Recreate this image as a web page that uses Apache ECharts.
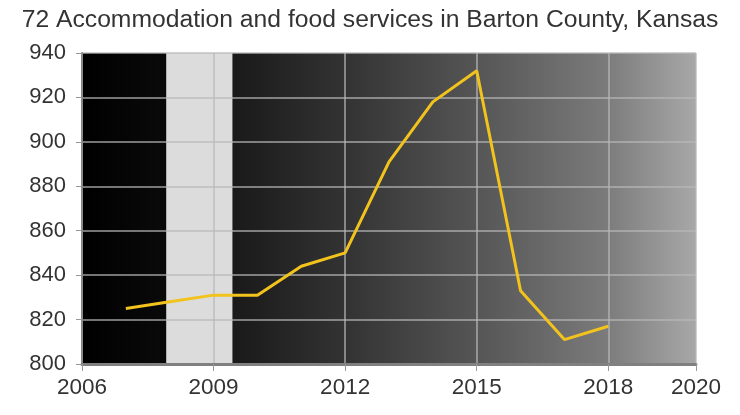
<!DOCTYPE html>
<html>
<head>
<meta charset="utf-8">
<script src="https://cdn.jsdelivr.net/npm/echarts@6/dist/echarts.min.js"></script>
<style>
html,body{margin:0;padding:0;background:#fff;}
#chart{width:740px;height:415px;}
</style>
</head>
<body>
<div id="chart"></div>
<script>
var titleText = '72 Accommodation and food services in Barton County, Kansas';
var years = [2007, 2008, 2009, 2010, 2011, 2012, 2013, 2014, 2015, 2016, 2017, 2018];
var values = [825, 828, 831, 831, 844, 850, 891, 918, 932, 833, 811, 817];
var recessionStart = 2007.92;
var recessionEnd = 2009.43;
var xMin = 2006, xMax = 2020, xInterval = 3;
var yMin = 800, yMax = 940, yInterval = 20;

var chart = echarts.init(document.getElementById('chart'), null, {renderer: 'canvas'});
var font = 'Liberation Sans, Arial, sans-serif';
chart.setOption({
  animation: false,
  title: {
    text: titleText,
    left: 'center',
    top: 3,
    textStyle: {fontFamily: font, fontSize: 24.7, fontWeight: 'normal', color: '#333'}
  },
  grid: {
    left: 82, right: 44, top: 53, bottom: 51,
    show: true,
    borderWidth: 0,
    z: 0,
    backgroundColor: {
      type: 'linear', x: 0, y: 0, x2: 1, y2: 0,
      colorStops: [
        {offset: 0, color: '#000000'},
        {offset: 0.14, color: '#0a0a0a'},
        {offset: 0.25, color: '#1a1a1a'},
        {offset: 0.43, color: '#333333'},
        {offset: 0.64, color: '#555555'},
        {offset: 0.85, color: '#7a7a7a'},
        {offset: 1, color: '#a8a8a8'}
      ]
    }
  },
  xAxis: {
    type: 'value',
    min: xMin, max: xMax, interval: xInterval,
    z: 2,
    axisLine: {show: true, lineStyle: {color: '#808080', width: 3}},
    axisTick: {show: true, length: 7, lineStyle: {color: '#999', width: 1}},
    axisLabel: {fontFamily: font, fontSize: 22.5, color: '#333', margin: 12, formatter: function(v){return String(v);}},
    splitLine: {show: true, lineStyle: {color: 'rgba(185,185,185,0.85)', width: 1.5}}
  },
  yAxis: {
    type: 'value',
    min: yMin, max: yMax, interval: yInterval,
    z: 2,
    axisLine: {show: true, lineStyle: {color: '#888', width: 2}},
    axisTick: {show: true, length: 6, lineStyle: {color: '#999', width: 1}},
    axisLabel: {fontFamily: font, fontSize: 22, color: '#333', margin: 16},
    splitLine: {show: true, lineStyle: {color: 'rgba(185,185,185,0.85)', width: 1.5}}
  },
  series: [
    {
      type: 'line',
      data: [],
      z: 1,
      silent: true,
      markArea: {
        silent: true,
        itemStyle: {color: '#dcdcdc'},
        data: [[{xAxis: recessionStart}, {xAxis: recessionEnd}]]
      }
    },
    {
      type: 'line',
      z: 3,
      data: years.map(function(y, i){return [y, values[i]];}),
      showSymbol: false,
      symbol: 'none',
      lineStyle: {color: '#f2c21d', width: 3},
      itemStyle: {color: '#f2c21d'}
    }
  ]
});
</script>
</body>
</html>
